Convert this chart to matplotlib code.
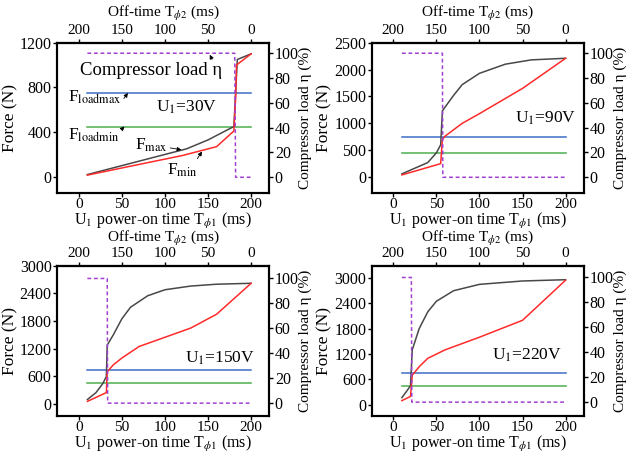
import numpy as np
import matplotlib
matplotlib.use('Agg')
import matplotlib.pyplot as plt

plt.rcParams['font.family'] = ['Liberation Serif', 'DejaVu Serif']
plt.rcParams['mathtext.fontset'] = 'stix'
plt.rcParams['font.size'] = 11

# constant load lines (N)
F_loadmax = 750
F_loadmin = 450
x_load = [10, 200]

# U1 = 30 V
t30_max = [10, 60, 125, 150, 180, 183, 184, 200]
f30_max = [20, 120, 250, 330, 450, 900, 1050, 1100]
t30_min = [10, 60, 120, 160, 180, 182, 183, 200]
f30_min = [15, 95, 190, 270, 410, 700, 1000, 1100]
t30_eta = [10, 181, 182, 200]
eta30 = [100, 100, 0, 0]

# U1 = 90 V
t90_max = [10, 40, 50, 55, 57, 60, 70, 80, 100, 130, 160, 200]
f90_max = [60, 270, 450, 600, 1230, 1300, 1520, 1720, 1930, 2100, 2180, 2210]
t90_min = [10, 55, 57, 60, 80, 100, 150, 200]
f90_min = [40, 250, 700, 760, 1000, 1180, 1650, 2210]
t90_eta = [10, 57, 57.5, 200]
eta90 = [100, 100, 0, 0]

# U1 = 150 V
t150_max = [10, 20, 28, 32, 33, 40, 50, 60, 80, 100, 130, 160, 200]
f150_max = [100, 250, 450, 600, 1280, 1500, 1850, 2100, 2350, 2480, 2560, 2600, 2620]
t150_min = [10, 32, 33, 40, 50, 70, 100, 130, 160, 200]
f150_min = [60, 250, 700, 850, 1000, 1250, 1450, 1650, 1950, 2620]
t150_eta = [10, 33, 33.5, 200]
eta150 = [100, 100, 0, 0]

# U1 = 220 V
t220_max = [10, 20, 22, 30, 40, 50, 70, 100, 150, 200]
f220_max = [170, 450, 1300, 1800, 2200, 2450, 2700, 2850, 2930, 2960]
t220_min = [10, 20, 22, 30, 40, 60, 100, 150, 200]
f220_min = [100, 200, 700, 900, 1100, 1300, 1600, 2000, 2950]
t220_eta = [10, 21, 21.5, 200]
eta220 = [100, 100, 0, 0]

panels = [
    dict(pos=[0.091, 0.580, 0.337, 0.327], ylim=(-143, 1200), yticks=[0, 400, 800, 1200],
         rlim=(-12.5, 108.5), tmax=t30_max, fmax=f30_max, tmin=t30_min, fmin=f30_min,
         teta=t30_eta, eta=eta30, label='U$_1$=30V', lab_xy=(90, 618), tpad=5),
    dict(pos=[0.591, 0.580, 0.337, 0.327], ylim=(-292, 2500), yticks=[0, 500, 1000, 1500, 2000, 2500],
         rlim=(-12.5, 108.5), tmax=t90_max, fmax=f90_max, tmin=t90_min, fmin=f90_min,
         teta=t90_eta, eta=eta90, label='U$_1$=90V', lab_xy=(141, 1100), tpad=5),
    dict(pos=[0.091, 0.094, 0.337, 0.327], ylim=(-254, 3000), yticks=[0, 600, 1200, 1800, 2400, 3000],
         rlim=(-10.2, 110.2), tmax=t150_max, fmax=f150_max, tmin=t150_min, fmin=f150_min,
         teta=t150_eta, eta=eta150, label='U$_1$=150V', lab_xy=(123, 1000), tpad=4),
    dict(pos=[0.591, 0.094, 0.337, 0.327], ylim=(-260, 3290), yticks=[0, 600, 1200, 1800, 2400, 3000],
         rlim=(-11, 109.4), tmax=t220_max, fmax=f220_max, tmin=t220_min, fmin=f220_min,
         teta=t220_eta, eta=eta220, label='U$_1$=220V', lab_xy=(114, 1184), tpad=4),
]

fig = plt.figure(figsize=(6.29, 4.59), dpi=100)

axes = []
for p in panels:
    ax = fig.add_axes(p['pos'])
    ax.plot(x_load, [F_loadmax, F_loadmax], color='#3d6fc6', lw=1.1)
    ax.plot(x_load, [F_loadmin, F_loadmin], color='#4caf50', lw=1.1)
    ax.plot(p['tmax'], p['fmax'], color='#484848', lw=1.1)
    ax.plot(p['tmin'], p['fmin'], color='#ff2a2a', lw=1.1)
    ax.set_xlim(-25, 221)
    ax.set_ylim(*p['ylim'])
    ax.set_yticks(p['yticks'])
    ax.set_xticks([0, 50, 100, 150, 200])
    ax.set_ylabel('Force (N)', fontsize=12.5, labelpad=1)
    ax.set_xlabel('U$_1$ power-on time T$_{\\phi1}$ (ms)', fontsize=11.5, labelpad=0)
    ax.text(p['lab_xy'][0], p['lab_xy'][1], p['label'], fontsize=12.5, va='center')

    ax2 = ax.twinx()
    ax2.plot(p['teta'], p['eta'], color='#a040d0', lw=1.1, ls=(0, (2.5, 1.8)))
    ax2.set_ylim(*p['rlim'])
    ax2.set_yticks([0, 20, 40, 60, 80, 100])
    ax2.set_ylabel('Compressor load η (%)', fontsize=11, labelpad=0)

    top = ax.secondary_xaxis('top', functions=(lambda x: 200 - x, lambda x: 200 - x))
    top.set_xticks([200, 150, 100, 50, 0])
    top.set_xlabel('Off-time T$_{\\phi2}$ (ms)', fontsize=11, labelpad=p['tpad'])

    for a in (ax, ax2, top):
        a.tick_params(length=3, width=1, labelsize=11.5, pad=1)
    top.tick_params(labelsize=11)
    ax.tick_params(axis='x', labelsize=11)
    for s in ax.spines.values():
        s.set_linewidth(1.5)
    for s in ax2.spines.values():
        s.set_linewidth(1.5)
    top.spines['top'].set_linewidth(1.5)
    axes.append(ax)

# annotations on the 30 V panel
ax = axes[0]
arr = dict(arrowstyle='-|>', lw=0.6, color='black', mutation_scale=6, shrinkA=0, shrinkB=0)
ax.annotate('Compressor load η', xy=(152, 1092), xytext=(1, 950), fontsize=13.5,
            va='center', arrowprops=dict(arr, relpos=(0.95, 0.85)))
ax.annotate('F$_{\\rm loadmax}$', xy=(57, 750), xytext=(-13, 712), fontsize=12.5,
            va='center', arrowprops=dict(arr, relpos=(1.0, 0.2)))
ax.annotate('F$_{\\rm loadmin}$', xy=(53, 450), xytext=(-13, 372), fontsize=12.5,
            va='center', arrowprops=dict(arr, relpos=(1.0, 0.7)))
ax.annotate('F$_{\\rm max}$', xy=(119, 242), xytext=(65, 282), fontsize=12.5,
            va='center', arrowprops=dict(arr, relpos=(0.6, 0.5)))
ax.annotate('F$_{\\rm min}$', xy=(143, 226), xytext=(102, 60), fontsize=12.5,
            va='center', arrowprops=dict(arr, relpos=(0.9, 0.9)))

plt.savefig('out.png', dpi=100)
